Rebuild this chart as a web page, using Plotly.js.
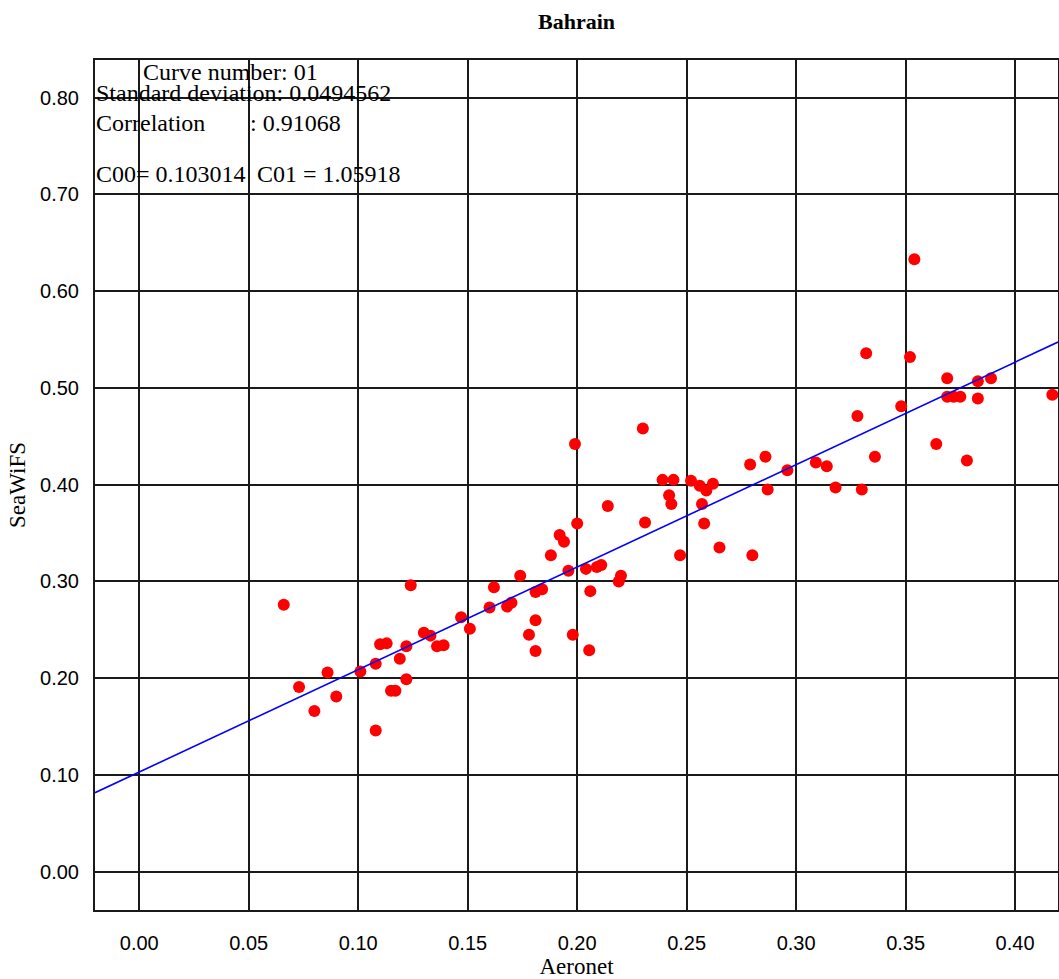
<!DOCTYPE html>
<html>
<head>
<meta charset="utf-8">
<script src="https://cdn.plot.ly/plotly-3.0.1.min.js"></script>
<style>
  html, body { margin: 0; padding: 0; background: #fff; }
  #chart { width: 1059px; height: 979px; }
</style>
</head>
<body>
<div id="chart"></div>
<script>
// ---- data ----
const chartTitle = "Bahrain";
const xTitle = "Aeronet";
const yTitle = "SeaWiFS";

const aeronet = [
  0.066, 0.073, 0.080, 0.086, 0.090, 0.101, 0.108, 0.108, 0.110, 0.113,
  0.115, 0.117, 0.119, 0.122, 0.122, 0.124, 0.130, 0.133, 0.136, 0.139,
  0.147, 0.151, 0.160, 0.162, 0.168, 0.170, 0.174, 0.178, 0.181, 0.181,
  0.181, 0.184, 0.188, 0.192, 0.194, 0.196, 0.198, 0.199, 0.200, 0.204,
  0.2055, 0.206, 0.209, 0.211, 0.214, 0.219, 0.220, 0.230, 0.231, 0.239,
  0.242, 0.243, 0.244, 0.247, 0.252, 0.256, 0.257, 0.258, 0.259, 0.262,
  0.265, 0.279, 0.280, 0.286, 0.287, 0.296, 0.309, 0.314, 0.318, 0.328,
  0.330, 0.332, 0.336, 0.348, 0.352, 0.354, 0.364, 0.369, 0.369, 0.372,
  0.375, 0.378, 0.383, 0.383, 0.389, 0.417
];
const seawifs = [
  0.276, 0.191, 0.166, 0.206, 0.181, 0.207, 0.215, 0.146, 0.235, 0.236,
  0.187, 0.187, 0.220, 0.199, 0.233, 0.296, 0.247, 0.244, 0.233, 0.234,
  0.263, 0.251, 0.273, 0.294, 0.274, 0.278, 0.306, 0.245, 0.260, 0.228,
  0.289, 0.292, 0.327, 0.348, 0.341, 0.311, 0.245, 0.442, 0.360, 0.313,
  0.229, 0.290, 0.315, 0.317, 0.378, 0.300, 0.306, 0.458, 0.361, 0.405,
  0.389, 0.380, 0.405, 0.327, 0.404, 0.399, 0.380, 0.360, 0.394, 0.401,
  0.335, 0.421, 0.327, 0.429, 0.395, 0.415, 0.423, 0.419, 0.397, 0.471,
  0.395, 0.536, 0.429, 0.481, 0.532, 0.633, 0.442, 0.510, 0.491, 0.491,
  0.491, 0.425, 0.507, 0.489, 0.510, 0.493
];

// regression statistics printed on the chart
const curveNumber = "01";
const stdDeviation = "0.0494562";
const correlation = "0.91068";
const c00 = 0.103014;   // intercept
const c01 = 1.05918;    // slope

// axis ranges and ticks
const xRange = [-0.0202, 0.4196];
const yRange = [-0.0396, 0.839];
const xTicks = [0.00, 0.05, 0.10, 0.15, 0.20, 0.25, 0.30, 0.35, 0.40];
const yTicks = [0.00, 0.10, 0.20, 0.30, 0.40, 0.50, 0.60, 0.70, 0.80];

// ---- layout helpers (pixel -> paper) ----
const W = 1059, H = 979;
const M = { l: 95, r: 1, t: 60, b: 69 };
const PW = W - M.l - M.r, PH = H - M.t - M.b;
const px = x => (x - M.l) / PW;
const py = y => (H - M.b - y) / PH;

// regression line endpoints from coefficients
const fitX = [xRange[0], xRange[1]];
const fitY = fitX.map(x => c00 + c01 * x);

const traces = [
  {
    x: aeronet, y: seawifs, type: "scatter", mode: "markers",
    marker: { color: "#ff0000", size: 12, line: { width: 0 } },
    hoverinfo: "skip", showlegend: false
  },
  {
    x: fitX, y: fitY, type: "scatter", mode: "lines",
    line: { color: "#0000ff", width: 1.6 },
    hoverinfo: "skip", showlegend: false
  }
];

const serif = "Liberation Serif, Times New Roman, serif";
const sans = "Liberation Sans, Arial, sans-serif";
const annFont = { family: serif, size: 24, color: "#000" };

function ann(text, x, yc) {
  return {
    text: text, xref: "paper", yref: "paper",
    x: px(x), y: py(yc), xanchor: "left", yanchor: "middle",
    showarrow: false, font: annFont, borderpad: 0
  };
}

const layout = {
  width: W, height: H,
  margin: M,
  paper_bgcolor: "#fff", plot_bgcolor: "#fff",
  showlegend: false,
  hovermode: false,
  title: {
    text: "<b>" + chartTitle + "</b>",
    font: { family: serif, size: 22, color: "#000" },
    xref: "paper", x: 0.5, xanchor: "center",
    yref: "container", y: 1 - 21 / H, yanchor: "middle"
  },
  xaxis: {
    range: xRange, tickvals: xTicks, tickformat: ".2f",
    showgrid: true, gridcolor: "#1a1a1a", gridwidth: 2,
    zeroline: false,
    showline: true, linecolor: "#1a1a1a", linewidth: 2, mirror: true,
    ticks: "outside", ticklen: 14, tickcolor: "rgba(0,0,0,0)",
    tickfont: { family: sans, size: 20, color: "#000" },
    title: { text: xTitle, font: { family: serif, size: 23, color: "#000" }, standoff: 8 }
  },
  yaxis: {
    range: yRange, tickvals: yTicks, tickformat: ".2f",
    showgrid: true, gridcolor: "#1a1a1a", gridwidth: 2,
    zeroline: false,
    showline: true, linecolor: "#1a1a1a", linewidth: 2, mirror: true,
    ticks: "outside", ticklen: 10, tickcolor: "rgba(0,0,0,0)",
    tickfont: { family: sans, size: 20, color: "#000" },
    title: { text: yTitle, font: { family: serif, size: 23, color: "#000" }, standoff: 8 }
  },
  annotations: [
    ann("Curve number: " + curveNumber, 142, 72),
    ann("Standard deviation: " + stdDeviation, 95, 93),
    ann("Correlation", 95, 123),
    ann(": " + correlation, 249, 123),
    ann("C00= " + c00, 95, 174),
    ann("C01 = " + c01, 256, 174)
  ]
};

Plotly.newPlot("chart", traces, layout, { displayModeBar: false, staticPlot: true });
</script>
</body>
</html>
